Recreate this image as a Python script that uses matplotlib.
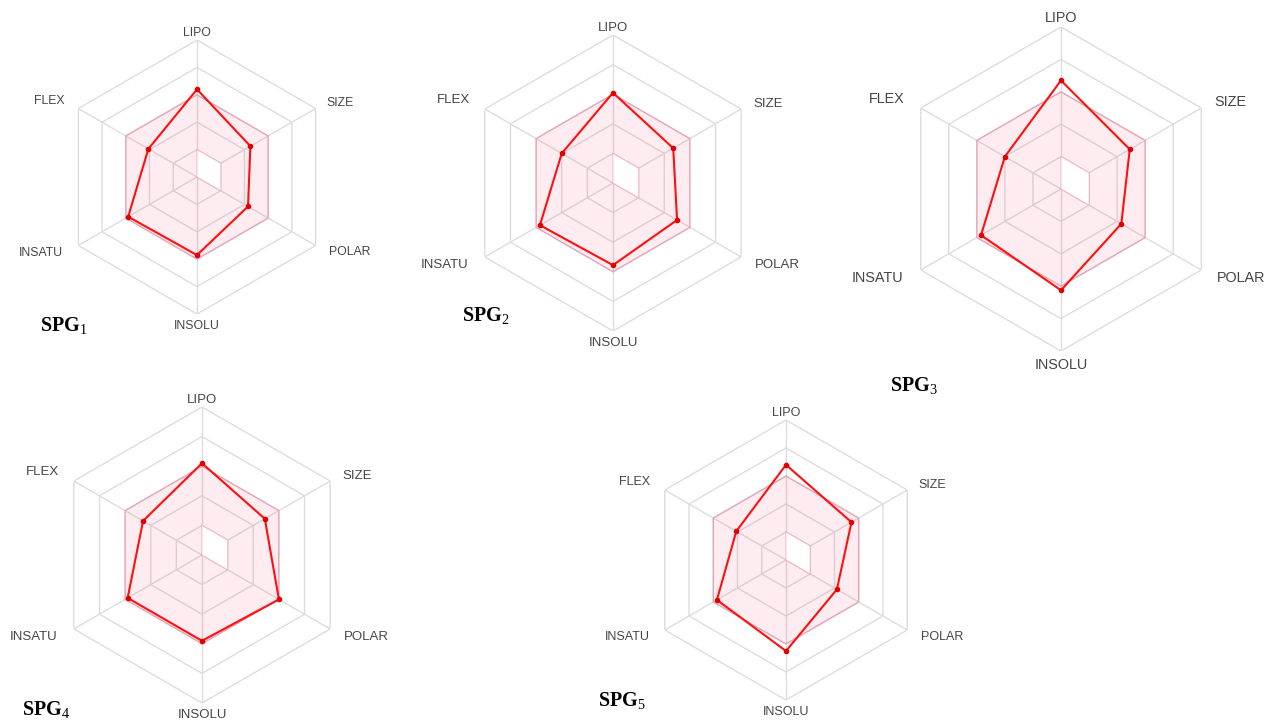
import numpy as np
import matplotlib
matplotlib.use('Agg')
import matplotlib.pyplot as plt

plt.rcParams['font.family'] = ['Liberation Sans', 'DejaVu Sans']
plt.rcParams['mathtext.fontset'] = 'custom'
plt.rcParams['mathtext.rm'] = 'Liberation Serif'
plt.rcParams['mathtext.bf'] = 'Liberation Serif:bold'

W, H = 1267, 721

axis_labels = ['LIPO', 'SIZE', 'POLAR', 'INSOLU', 'INSATU', 'FLEX']
names = ['1', '2', '3', '4', '5']

# values, as fraction of the outer ring
spg1 = [0.64, 0.45, 0.43, 0.57, 0.58, 0.41]
spg2 = [0.61, 0.47, 0.50, 0.555, 0.57, 0.40]
spg3 = [0.67, 0.49, 0.43, 0.625, 0.57, 0.40]
spg4 = [0.62, 0.49, 0.60, 0.58, 0.58, 0.46]
spg5 = [0.68, 0.54, 0.42, 0.65, 0.57, 0.41]
series = [spg1, spg2, spg3, spg4, spg5]

# optimal (pink) zone: outer and inner limits per axis
pink_outer = [0.6, 0.6, 0.6, 0.6, 0.6, 0.6]
pink_inner = [0.2, 0.2, 0.2, 0.0, 0.0, 0.0]
rings = [0.2, 0.4, 0.6, 0.8, 1.0]

# panel centre (px) and radius (px)
centers = [(197, 177), (613, 183), (1061, 189), (202, 555), (786, 560)]
radii = [137, 148, 162, 148, 140]
title_pos = [(40, 325), (462, 315), (890, 385), (22, 709), (598, 700)]

theta = np.arange(6) * np.pi / 3
tc = np.append(theta, theta[0])

# label offsets in px (for R=137), alignment
offsets = [(0, 4, 'center', 'baseline'), (11, 5, 'left', 'center'),
           (13, -7, 'left', 'center'), (0, -6, 'center', 'top'),
           (-15, -7, 'right', 'center'), (-14, 8, 'right', 'center')]

fig = plt.figure(figsize=(W / 100, H / 100), dpi=100)

for k in range(5):
    cx, cy = centers[k]
    R = radii[k]
    sc = R / 137
    ax = fig.add_axes([(cx - R) / W, (H - cy - R) / H, 2 * R / W, 2 * R / H], projection='polar')
    ax.set_theta_offset(np.pi / 2)
    ax.set_theta_direction(-1)
    ax.set_ylim(0, 1)
    ax.grid(False)
    ax.set_xticks([])
    ax.set_yticks([])
    ax.spines['polar'].set_visible(False)
    ax.patch.set_visible(False)

    for r in rings:
        ax.plot(tc, [r] * 7, color='#dddddd', lw=1, zorder=1)
    for t in theta:
        ax.plot([t, t], [0, 1], color='#dddddd', lw=1, zorder=1)

    po = np.append(pink_outer, pink_outer[0])
    ax.fill(tc, po, color=(1, 0, 0.3, 0.075), zorder=2)
    ax.plot(tc, po, color=(1, 0, 0.3, 0.16), lw=1, zorder=2)
    pi_ = np.append(pink_inner, pink_inner[0])
    ax.fill(tc, pi_, facecolor='white', edgecolor=(1, 0, 0.3, 0.16), lw=1, zorder=3)

    v = series[k]
    ax.plot(tc, np.append(v, v[0]), color='#ff1010', lw=1.5, zorder=4)
    ax.plot(theta, v, 'o', color='#e00000', ms=3, zorder=5)

    for i, lab in enumerate(axis_labels):
        dx, dy, ha, va = offsets[i]
        ax.annotate(lab, xy=(theta[i], 1), xytext=(dx * sc, dy * sc), textcoords='offset pixels',
                    ha=ha, va=va, fontsize=8.8 * sc, color='#454545', annotation_clip=False)

    tx, ty = title_pos[k]
    fig.text(tx / W, 1 - (ty + 7) / H, r'$\mathbf{SPG}_{\mathrm{' + names[k] + '}}$',
             fontsize=14.5, color='black', ha='left', va='baseline')

fig.savefig('out.png', dpi=100)
